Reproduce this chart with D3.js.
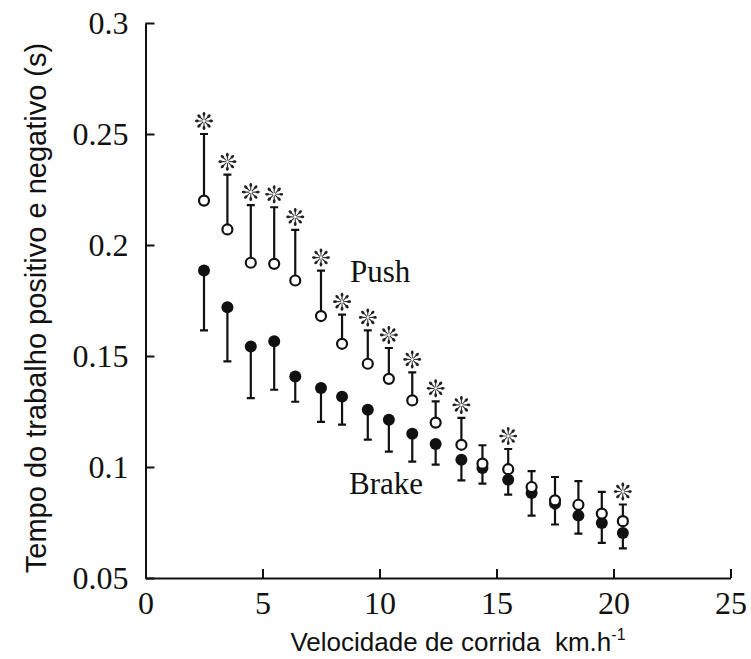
<!DOCTYPE html>
<html>
<head>
<meta charset="utf-8">
<script src="https://cdn.jsdelivr.net/npm/d3@7"></script>
<style>
body { margin: 0; background: #fff; }
</style>
</head>
<body>
<script>
// speeds (km/h) and times (s)
const speed = [2.5, 3.5, 4.5, 5.5, 6.4, 7.5, 8.4, 9.5, 10.4, 11.4, 12.4, 13.5, 14.4, 15.5, 16.5, 17.5, 18.5, 19.5, 20.4];
const pushMean = [0.220, 0.207, 0.192, 0.1915, 0.184, 0.168, 0.1555, 0.1465, 0.1397, 0.130, 0.120, 0.110, 0.1015, 0.099, 0.091, 0.085, 0.083, 0.079, 0.0756];
const pushSd = [0.030, 0.0247, 0.026, 0.0255, 0.0228, 0.0205, 0.0131, 0.015, 0.0139, 0.0126, 0.0096, 0.0121, 0.0083, 0.0091, 0.0071, 0.0105, 0.0106, 0.0098, 0.0075];
const brakeMean = [0.1885, 0.172, 0.1543, 0.1566, 0.1408, 0.1356, 0.1317, 0.1258, 0.1213, 0.115, 0.1104, 0.1033, 0.0996, 0.0943, 0.0883, 0.0835, 0.0781, 0.0748, 0.0703];
const brakeSd = [0.027, 0.0244, 0.0233, 0.0218, 0.0114, 0.0153, 0.0126, 0.0135, 0.0144, 0.0126, 0.0093, 0.0093, 0.0071, 0.0067, 0.0102, 0.0094, 0.0081, 0.009, 0.007];
const signif = [1, 1, 1, 1, 1, 1, 1, 1, 1, 1, 1, 1, 0, 1, 0, 0, 0, 0, 1];

const xTicks = [0, 5, 10, 15, 20, 25];
const yTicks = [0.05, 0.1, 0.15, 0.2, 0.25, 0.3];

const width = 751, height = 659;
const margin = { top: 23, right: 20.5, bottom: 81, left: 145.5 };

const x = d3.scaleLinear().domain([0, 25]).range([margin.left, width - margin.right]),
    y = d3.scaleLinear().domain([0.05, 0.3]).range([height - margin.bottom, margin.top]);

const serif = '"Liberation Serif", "Times New Roman", serif',
    sans = '"Liberation Sans", Arial, sans-serif';

const svg = d3.select('body').append('svg')
    .attr('width', width)
    .attr('height', height);

const data = speed.map((s, i) => ({
    s: s,
    pm: pushMean[i], ps: pushSd[i],
    bm: brakeMean[i], bs: brakeSd[i],
    star: signif[i]
}));

// axes, ticks point inward
const yAxis = svg.append('g')
    .attr('transform', 'translate(' + margin.left + ',0)')
    .call(d3.axisLeft(y)
        .tickValues(yTicks)
        .tickSizeInner(-9)
        .tickSizeOuter(0)
        .tickPadding(17)
        .tickFormat(d => String(d)));

const xAxis = svg.append('g')
    .attr('transform', 'translate(0,' + y(0.05) + ')')
    .call(d3.axisBottom(x)
        .tickValues(xTicks)
        .tickSizeInner(-9)
        .tickSizeOuter(0)
        .tickPadding(13)
        .tickFormat(d => String(d)));

[yAxis, xAxis].forEach(g => {
    g.attr('font-family', serif).attr('font-size', 32);
    g.selectAll('path, line').attr('stroke', '#111').attr('stroke-width', 2);
    g.selectAll('text').attr('fill', '#111');
});

// error bars
const cap = 4;
const bars = svg.append('g').attr('stroke', '#111').attr('stroke-width', 2.2);

bars.selectAll('.push-bar')
    .data(data)
    .join('path')
    .attr('class', 'push-bar')
    .attr('fill', 'none')
    .attr('d', d => 'M' + x(d.s) + ',' + y(d.pm) + 'V' + y(d.pm + d.ps)
        + 'M' + (x(d.s) - cap) + ',' + y(d.pm + d.ps) + 'H' + (x(d.s) + cap));

bars.selectAll('.brake-bar')
    .data(data)
    .join('path')
    .attr('class', 'brake-bar')
    .attr('fill', 'none')
    .attr('d', d => 'M' + x(d.s) + ',' + y(d.bm) + 'V' + y(d.bm - d.bs)
        + 'M' + (x(d.s) - cap) + ',' + y(d.bm - d.bs) + 'H' + (x(d.s) + cap));

// brake = filled, push = open (drawn on top)
svg.append('g')
    .selectAll('circle')
    .data(data)
    .join('circle')
    .attr('cx', d => x(d.s))
    .attr('cy', d => y(d.bm))
    .attr('r', 6)
    .attr('fill', '#111');

svg.append('g')
    .selectAll('circle')
    .data(data)
    .join('circle')
    .attr('cx', d => x(d.s))
    .attr('cy', d => y(d.pm))
    .attr('r', 5)
    .attr('fill', '#fff')
    .attr('stroke', '#111')
    .attr('stroke-width', 2.2);

// significance marks: asterisk with thin stalks and drop ends
const petal = 'M-0.35,-1.2 L-0.6,-5 C-1.9,-6.2 -1.5,-9 0,-9 C1.5,-9 1.9,-6.2 0.6,-5 L0.35,-1.2Z';
const stars = svg.append('g')
    .selectAll('g')
    .data(data.filter(d => d.star))
    .join('g')
    .attr('transform', d => 'translate(' + x(d.s) + ',' + (y(d.pm + d.ps) - 13) + ')');

stars.selectAll('path')
    .data(d3.range(8))
    .join('path')
    .attr('d', petal)
    .attr('transform', a => 'rotate(' + a * 45 + ')')
    .attr('fill', '#222');

// series labels
svg.append('text')
    .attr('x', 350).attr('y', 282)
    .attr('font-family', serif).attr('font-size', 31)
    .attr('fill', '#111')
    .text('Push');

svg.append('text')
    .attr('x', 349).attr('y', 494)
    .attr('font-family', serif).attr('font-size', 31)
    .attr('fill', '#111')
    .text('Brake');

// axis titles
svg.append('text')
    .attr('transform', 'translate(46,' + 308 + ') rotate(-90)')
    .attr('text-anchor', 'middle')
    .attr('font-family', sans).attr('font-size', 29)
    .attr('fill', '#111')
    .text('Tempo do trabalho positivo e negativo (s)');

const xt = svg.append('text')
    .attr('x', 458).attr('y', 651)
    .attr('text-anchor', 'middle')
    .attr('font-family', sans).attr('font-size', 26)
    .attr('fill', '#111')
    .style('white-space', 'pre');
xt.append('tspan').text('Velocidade de corrida  km.h');
xt.append('tspan').attr('font-size', 16).attr('dy', -11).text('-1');
</script>
</body>
</html>
